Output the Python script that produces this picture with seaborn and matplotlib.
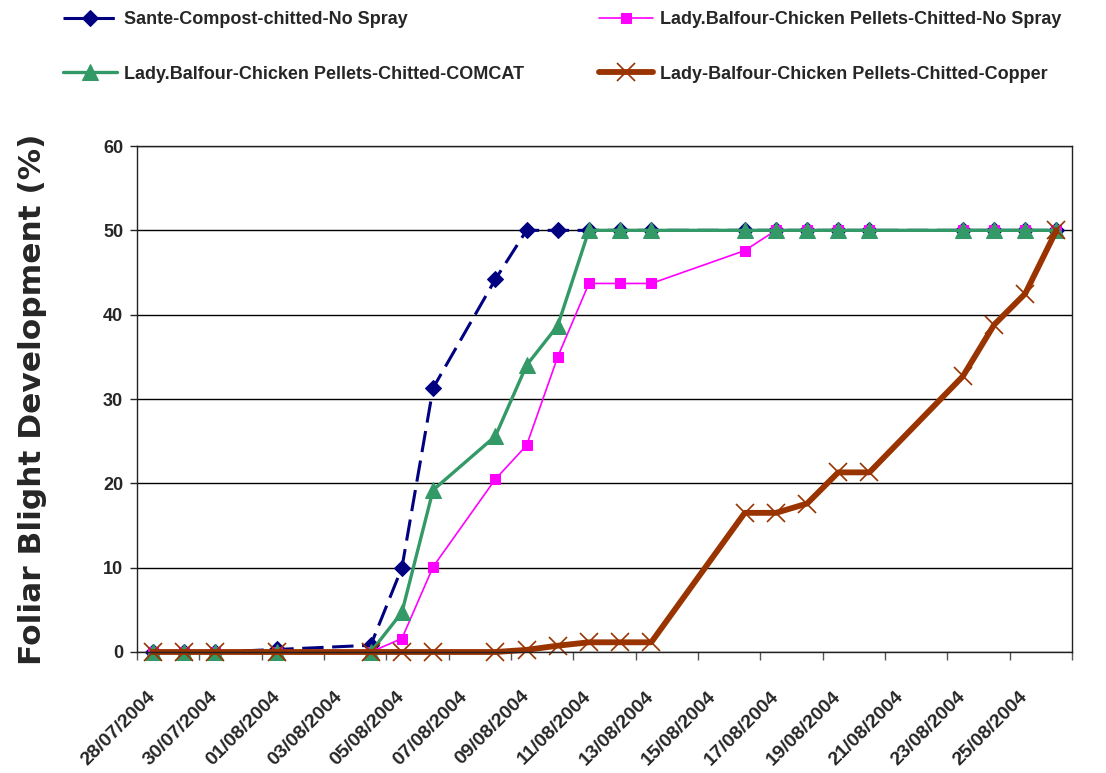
import numpy as np
import pandas as pd
import matplotlib
matplotlib.use("Agg")
import matplotlib.pyplot as plt
import matplotlib.transforms as mtransforms
import seaborn as sns

# Assessment dates and foliar blight (%) per treatment
dates = ["28/07/2004", "29/07/2004", "30/07/2004", "01/08/2004", "04/08/2004",
         "05/08/2004", "06/08/2004", "08/08/2004", "09/08/2004", "10/08/2004",
         "11/08/2004", "12/08/2004", "13/08/2004", "16/08/2004", "17/08/2004",
         "18/08/2004", "19/08/2004", "20/08/2004", "23/08/2004", "24/08/2004",
         "25/08/2004", "26/08/2004"]
sante_no_spray = [0, 0, 0, 0.3, 0.8, 10, 31.3, 44.2, 50, 50, 50,
                  50, 50, 50, 50, 50, 50, 50, 50, 50, 50, 50]
balfour_no_spray = [0, 0, 0, 0, 0, 1.6, 10.1, 20.5, 24.5, 35, 43.7,
                    43.7, 43.7, 47.6, 50, 50, 50, 50, 50, 50, 50, 50]
balfour_comcat = [0, 0, 0, 0, 0, 4.7, 19.2, 25.6, 34, 38.7, 50,
                  50, 50, 50, 50, 50, 50, 50, 50, 50, 50, 50]
balfour_copper = [0, 0, 0, 0, 0, 0, 0, 0, 0.25, 0.75, 1.15,
                  1.15, 1.15, 16.5, 16.5, 17.6, 21.3, 21.3, 32.7, 38.8, 42.5, 50]

labels = ["Sante-Compost-chitted-No Spray",
          "Lady.Balfour-Chicken Pellets-Chitted-No Spray",
          "Lady.Balfour-Chicken Pellets-Chitted-COMCAT",
          "Lady-Balfour-Chicken Pellets-Chitted-Copper"]
colors = ["#000080", "#FF00FF", "#339966", "#993300"]

sns.set_style("ticks")
plt.rcParams['font.family'] = ['Liberation Sans', 'DejaVu Sans']
plt.rcParams['font.weight'] = 'bold'

x = pd.to_datetime(dates, format="%d/%m/%Y")

fig = plt.figure(figsize=(11.06, 7.73), dpi=100)
ax = fig.add_axes([137 / 1106, 1 - 652 / 773, (1072 - 137) / 1106, (652 - 146) / 773])

styles = [
    dict(marker="D", markersize=8, linewidth=2.2, linestyle=(0, (7, 2.8))),
    dict(marker="s", markersize=6.5, linewidth=1.2, linestyle="-"),
    dict(marker="^", markersize=12, linewidth=2.4, linestyle="-"),
    dict(marker="x", markersize=13, markeredgewidth=1.2, linewidth=4.2, linestyle="-"),
]
series = [sante_no_spray, balfour_no_spray, balfour_comcat, balfour_copper]
handles = []
for vals, lab, col, st in zip(series, labels, colors, styles):
    sns.lineplot(x=x, y=vals, ax=ax, label=lab, color=col, markeredgecolor=col,
                 markerfacecolor=col, clip_on=False, **st)
    handles.append(ax.lines[-1])
ax.get_legend().remove()

# axis limits and ticks (dates centred in day slots, ticks on slot edges)
start = x[0]
ax.set_xlim(start - pd.Timedelta(hours=12), start + pd.Timedelta(days=29, hours=12))
ax.set_ylim(0, 60)
ax.set_yticks(np.arange(0, 61, 10))
major = pd.date_range(start, periods=15, freq="2D")
ax.set_xticks(major)
ax.set_xticklabels([d.strftime("%d/%m/%Y") for d in major], rotation=45,
                   ha="right", va="center", rotation_mode="anchor",
                   fontsize=14, fontweight="bold")
shift = mtransforms.ScaledTranslation(-4 / 100, 0, fig.dpi_scale_trans)
for t in ax.get_xticklabels():
    t.set_transform(t.get_transform() + shift)
minor = [start - pd.Timedelta(hours=12) + pd.Timedelta(days=2 * k) for k in range(16)]
ax.set_xticks(minor, minor=True)
ax.tick_params(axis="x", which="major", length=0, pad=30)
ax.tick_params(axis="x", which="minor", length=6, width=1, color="#555555", direction="out")
ax.tick_params(axis="y", length=5, width=1, direction="out", pad=5, labelsize=13)
for t in ax.get_yticklabels():
    t.set_fontweight("bold")

ax.grid(axis="y", color="black", linewidth=1)
ax.set_axisbelow(True)
for s in ax.spines.values():
    s.set_visible(True)
    s.set_color("#222222")
    s.set_linewidth(1)

ax.set_xlabel("")
ax.set_ylabel("Foliar Blight Development (%)", fontsize=22.5, fontweight="bold",
              family="DejaVu Sans", labelpad=40)

order = [0, 2, 1, 3]
fig.legend([handles[i] for i in order], [labels[i] for i in order],
           loc="upper left", bbox_to_anchor=(63 / 1106, 1 - 11 / 773), ncol=2,
           frameon=False, handlelength=3.0, handletextpad=0.4,
           columnspacing=4.1, labelspacing=2.08, borderpad=0, borderaxespad=0,
           prop={"weight": "bold", "size": 13})

fig.savefig("out.png", dpi=100)
